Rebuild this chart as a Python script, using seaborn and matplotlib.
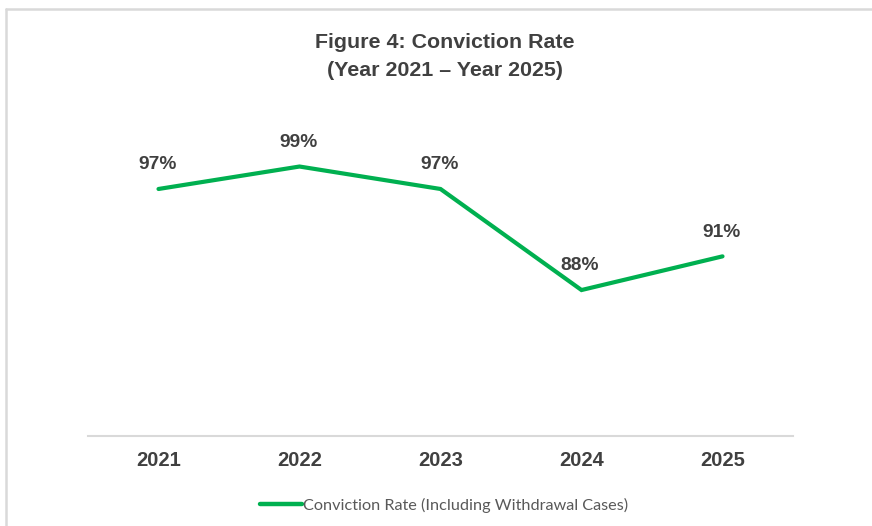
import numpy as np
import pandas as pd
import matplotlib.pyplot as plt
from matplotlib.lines import Line2D
import seaborn as sns

# data
years = ['2021', '2022', '2023', '2024', '2025']
rates = [97, 99, 97, 88, 91]
labels = ['97%', '99%', '97%', '88%', '91%']
series_name = 'Conviction Rate (Including Withdrawal Cases)'

GREEN = '#00B050'
TEXT = '#404040'
GRID = '#D9D9D9'

df = pd.DataFrame({'Year': years, 'Rate': rates})

sns.set_theme(style='white')
plt.rcParams['font.family'] = ['Liberation Sans', 'DejaVu Sans']

W, H = 872, 526
fig = plt.figure(figsize=(W / 100, H / 100), dpi=100)
ax = fig.add_axes([88 / W, (H - 436) / H, 705 / W, (436 - 155.3) / H])

sns.lineplot(data=df, x='Year', y='Rate', ax=ax, color=GREEN, linewidth=3,
             label=series_name, solid_capstyle='round', solid_joinstyle='miter')

ax.set_xlim(-0.5, len(years) - 0.5)
ax.set_ylim(75, 100)

for i, (v, t) in enumerate(zip(rates, labels)):
    ax.annotate(t, (i, v), xytext=(-1, 17.5), textcoords='offset points',
                ha='center', va='center', fontsize=13.8, fontweight='bold',
                color=TEXT)

ax.set_xlabel('')
ax.set_ylabel('')
ax.set_yticks([])
ax.tick_params(axis='x', length=0, pad=11, labelsize=14.5, labelcolor=TEXT)
for lab in ax.get_xticklabels():
    lab.set_fontweight('bold')
for s in ['top', 'right', 'left']:
    ax.spines[s].set_visible(False)
ax.spines['bottom'].set_color(GRID)
ax.spines['bottom'].set_linewidth(1.5)

fig.suptitle('Figure 4: Conviction Rate\n(Year 2021 \u2013 Year 2025)',
             x=445 / W, y=1 - 33 / H, va='top', fontsize=15.4,
             fontweight='bold', color=TEXT, linespacing=1.6)

leg = ax.legend(loc='center', bbox_to_anchor=(444 / W, 1 - 505 / H),
                bbox_transform=fig.transFigure, frameon=False,
                handlelength=2.6, handletextpad=0.1,
                prop={'family': 'Lato', 'size': 11.7})
for t in leg.get_texts():
    t.set_color('#595959')
for h in leg.get_lines():
    h.set_linewidth(3.2)

# outer border (left and top edges of the chart frame)
fig.add_artist(Line2D([6 / W, 6 / W], [0, 1 - 8.5 / H], color=GRID,
                      linewidth=1.8, transform=fig.transFigure))
fig.add_artist(Line2D([6 / W, 1], [1 - 8.5 / H, 1 - 8.5 / H], color=GRID,
                      linewidth=1.8, transform=fig.transFigure))

fig.savefig('out.png', dpi=100)
